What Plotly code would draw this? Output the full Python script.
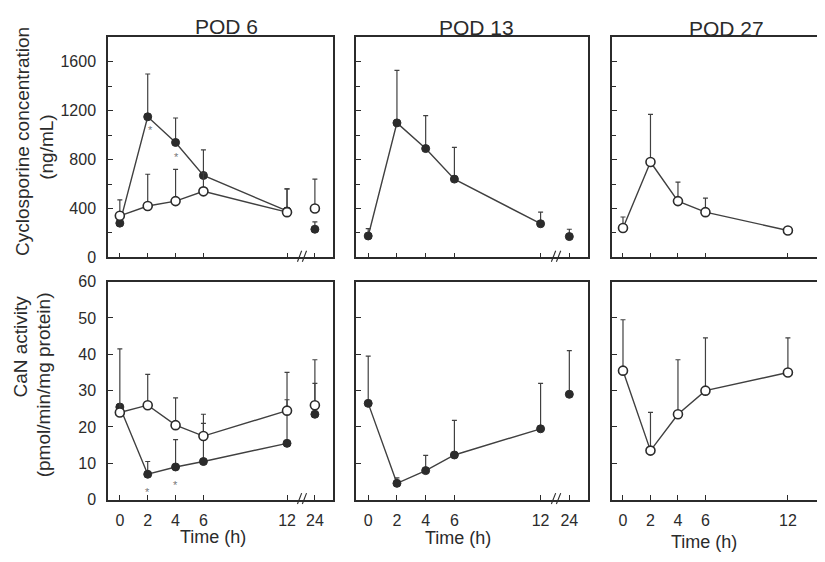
import plotly.graph_objects as go

# ---------------- data ----------------
times = [0, 2, 4, 6, 12, 24]
times_pod27 = [0, 2, 4, 6, 12]
tick_times = [0, 2, 4, 6, 12, 24]
tick_labels = ["0", "2", "4", "6", "12", "24"]

# Cyclosporine concentration (ng/mL)
csa6_filled = [280, 1150, 940, 670, 380, 230]
csa6_filled_sd = [0, 350, 200, 210, 180, 60]
csa6_open = [340, 420, 460, 540, 370, 400]
csa6_open_sd = [130, 260, 260, 150, 190, 240]
csa13_filled = [175, 1100, 890, 640, 275, 170]
csa13_filled_sd = [60, 430, 270, 260, 95, 60]
csa27_open = [240, 780, 460, 370, 220]
csa27_open_sd = [90, 390, 155, 115, 0]

# CaN activity (pmol/min/mg protein)
can6_filled = [25.5, 7, 9, 10.5, 15.5, 23.5]
can6_filled_sd = [0, 3.5, 7.5, 10.5, 12, 8.5]
can6_open = [24, 26, 20.5, 17.5, 24.5, 26]
can6_open_sd = [17.5, 8.5, 7.5, 6, 10.5, 12.5]
can13_filled = [26.5, 4.5, 8, 12.3, 19.5, 29]
can13_filled_sd = [13, 1.5, 4.2, 9.5, 12.5, 12]
can27_open = [35.5, 13.5, 23.5, 30, 35]
can27_open_sd = [14, 10.5, 15, 14.5, 9.5]

pod_titles = ["POD 6", "POD 13", "POD 27"]

# ---------------- styling ----------------
WIN_W, WIN_H = 825, 562
OFF = 8  # default page body margin
W, H = WIN_W - OFF, WIN_H - OFF
INK = "#2b2b2b"
LINE = "#404040"
FONT = "Liberation Sans, Arial, sans-serif"


def xpos(t):
    # broken time axis: 0-12 h linear, 24 h placed just after the break
    return t if t <= 12 else 12 + (t - 12) / 6.0


def px(x):
    return (x - OFF) / W


def py(y):
    return 1 - (y - OFF) / H


col_dom = [(108, 333), (356, 588), (612, 825)]
row_dom = [(30, 257), (282, 507)]
x_ranges = [[-0.85, 15.3], [-0.85, 15.3], [-0.8, 14.7]]

fig = go.Figure()


def axname(i):
    return "" if i == 0 else str(i + 1)


def add_series(panel, t, y, sd, filled, connect_upto=12):
    n = axname(panel)
    xa, ya = "x" + n, "y" + n
    if filled:
        marker = dict(symbol="circle", size=8, color=INK, line=dict(color=INK, width=1))
    else:
        marker = dict(symbol="circle", size=9, color="white", line=dict(color=INK, width=1.6))
    main_t = [tt for tt in t if tt <= connect_upto]
    k = len(main_t)
    fig.add_trace(go.Scatter(
        x=[xpos(tt) for tt in main_t], y=y[:k], mode="lines+markers",
        line=dict(color=LINE, width=1.4), marker=marker,
        error_y=dict(type="data", symmetric=False, array=sd[:k], arrayminus=[0] * k,
                     color=LINE, thickness=1.2, width=2.5),
        xaxis=xa, yaxis=ya, showlegend=False, hoverinfo="x+y"))
    if len(t) > k:
        rest = t[k:]
        fig.add_trace(go.Scatter(
            x=[xpos(tt) for tt in rest], y=y[k:], mode="markers", marker=marker,
            error_y=dict(type="data", symmetric=False, array=sd[k:], arrayminus=[0] * len(rest),
                         color=LINE, thickness=1.2, width=2.5),
            xaxis=xa, yaxis=ya, showlegend=False, hoverinfo="x+y"))


# top row: cyclosporine
add_series(0, times, csa6_filled, csa6_filled_sd, True)
add_series(0, times, csa6_open, csa6_open_sd, False)
add_series(1, times, csa13_filled, csa13_filled_sd, True)
add_series(2, times_pod27, csa27_open, csa27_open_sd, False)
# bottom row: CaN activity
add_series(3, times, can6_filled, can6_filled_sd, True)
add_series(3, times, can6_open, can6_open_sd, False)
add_series(4, times, can13_filled, can13_filled_sd, True)
add_series(5, times_pod27, can27_open, can27_open_sd, False)

layout = {}
for i in range(6):
    r, c = divmod(i, 3)
    n = axname(i)
    x0, x1 = col_dom[c]
    y0, y1 = row_dom[r]
    tt = tick_times if c < 2 else times_pod27
    tl = tick_labels if c < 2 else tick_labels[:5]
    layout["xaxis" + n] = dict(
        domain=[px(x0), min(1.0, px(x1))], range=x_ranges[c], anchor="y" + n,
        tickmode="array", tickvals=[xpos(v) for v in tt], ticktext=tl,
        showticklabels=(r == 1), ticks="inside", ticklen=5, tickwidth=1.2, tickcolor=INK,
        showline=True, linecolor=INK, linewidth=1.5, mirror=True,
        showgrid=False, zeroline=False, ticklabelstandoff=5,
        tickfont=dict(family=FONT, size=16, color=INK))
    if r == 0:
        yax = dict(range=[0, 1800], tickmode="linear", tick0=0, dtick=400,
                   minor=dict(ticks="inside", dtick=200, tick0=0, ticklen=4, tickcolor=INK, tickwidth=1.2))
    else:
        yax = dict(range=[0, 60], tickmode="linear", tick0=0, dtick=10)
    yax.update(
        domain=[py(y1), py(y0)], anchor="x" + n,
        showticklabels=(c == 0), ticks="inside", ticklen=5, tickwidth=1.2, tickcolor=INK,
        showline=True, linecolor=INK, linewidth=1.5, mirror=(c < 2),
        showgrid=False, zeroline=False, ticklabelstandoff=7,
        tickfont=dict(family=FONT, size=16, color=INK))
    layout["yaxis" + n] = yax

annotations = []


def label(cx, cy, txt, size, angle=0, color=INK):
    annotations.append(dict(x=px(cx), y=py(cy), xref="paper", yref="paper", text=txt,
                            xanchor="center", yanchor="middle", textangle=angle,
                            showarrow=False, font=dict(family=FONT, size=size, color=color)))


# panel titles
for (cx, cy), txt in zip([(226, 19), (476, 20), (726, 21)], pod_titles):
    label(cx, cy, txt, 21)
# y-axis titles
for (cx, cy), txt in zip([(22, 138), (47, 144), (21, 349), (43, 389)],
                         ["Cyclosporine concentration", "(ng/mL)",
                          "CaN activity", "(pmol/min/mg protein)"]):
    label(cx, cy, txt, 19, angle=-90)
# x-axis titles
for cx, cy in [(213, 545), (458, 547), (704, 551)]:
    label(cx, cy, "Time (h)", 18)

# significance asterisks
for (ax, xv, yv) in [("", 2.2, 1040), ("", 4.1, 820), ("4", 2.0, 2.0), ("4", 4.0, 4.0)]:
    annotations.append(dict(x=xpos(xv), y=yv, xref="x" + ax, yref="y" + ax, text="*",
                            xanchor="center", yanchor="middle",
                            showarrow=False, font=dict(family=FONT, size=11, color="#777")))

# axis break marks
shapes = []
for n in ["", "2", "4", "5"]:
    for dx in (0, 0.35):
        shapes.append(dict(type="line", xref="x" + n, yref="y" + n + " domain",
                           x0=12.75 + dx, x1=13.05 + dx, y0=-0.02, y1=0.03,
                           line=dict(color=INK, width=1.1)))

fig.update_layout(
    width=W, height=H, margin=dict(l=0, r=0, t=0, b=0),
    paper_bgcolor="white", plot_bgcolor="white",
    annotations=annotations, shapes=shapes, showlegend=False,
    **layout)

fig.write_html("out.html")
